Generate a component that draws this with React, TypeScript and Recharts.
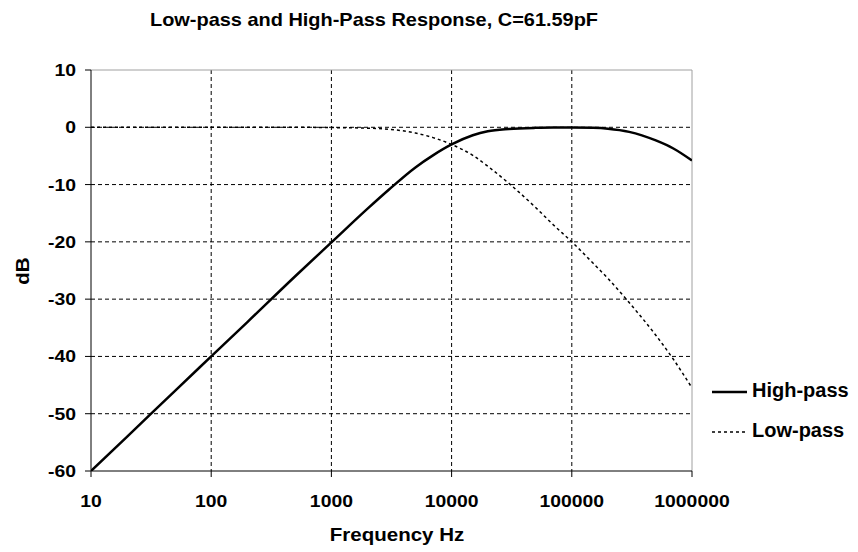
import { LineChart, Line, XAxis, YAxis, CartesianGrid, ReferenceLine } from 'recharts';

// ── Data ──────────────────────────────────────────────────────────────────────
const FREQ = [
  10, 20, 50, 100, 200, 500, 1000, 2000, 3000, 5000, 7000, 10000, 15000, 20000, 30000,
  50000, 70000, 100000, 150000, 200000, 300000, 500000, 700000, 1000000,
];
const HIGH_PASS = [
  -60, -54, -46, -40, -34, -26, -20.1, -14.2, -10.9, -7.0, -4.9, -3.0, -1.4, -0.7, -0.3,
  -0.1, -0.05, -0.05, -0.1, -0.25, -0.8, -2.3, -3.7, -5.8,
];
const LOW_PASS = [
  0, 0, 0, 0, 0, 0, -0.05, -0.15, -0.35, -1.0, -1.8, -3.0, -4.9, -6.8, -9.8,
  -14.0, -17.0, -20.0, -23.7, -26.4, -30.6, -36.3, -40.5, -45.5,
];
const X_TICKS = [10, 100, 1000, 10000, 100000, 1000000];
const Y_TICKS = [10, 0, -10, -20, -30, -40, -50, -60];
const X_GRID = [100, 1000, 10000, 100000];
const Y_GRID = [0, -10, -20, -30, -40, -50];

const data = FREQ.map((f, i) => ({ f, hp: HIGH_PASS[i], lp: LOW_PASS[i] }));

const FONT = "'Liberation Sans', Arial, sans-serif";
const SX = 1.14; // reference text is slightly stretched horizontally

// ── Tick renderers ────────────────────────────────────────────────────────────
function XTick({ x, y, payload }: any) {
  return (
    <text
      transform={`translate(${x},${y + 27.5}) scale(${SX},1)`}
      textAnchor="middle"
      fontFamily={FONT}
      fontWeight="bold"
      fontSize={17}
      fill="#000"
    >
      {payload.value}
    </text>
  );
}

function YTick({ x, y, payload }: any) {
  return (
    <text
      transform={`translate(${x - 7},${y + 6}) scale(${SX},1)`}
      textAnchor="end"
      fontFamily={FONT}
      fontWeight="bold"
      fontSize={17}
      fill="#000"
    >
      {payload.value}
    </text>
  );
}

// ── Main ──────────────────────────────────────────────────────────────────────
export default function App() {
  return (
    <div style={{ position: 'absolute', left: 0, top: 0, width: 858, height: 552, background: '#fff' }}>
      <LineChart width={858} height={552} data={data} margin={{ top: 70, right: 166, bottom: 51, left: 31 }}>
        <CartesianGrid
          stroke="#000"
          strokeDasharray="4 3"
          horizontalValues={Y_GRID}
          verticalValues={X_GRID}
        />
        <ReferenceLine y={10} stroke="#a0a0a0" strokeWidth={1} />
        <ReferenceLine x={1000000} stroke="#a0a0a0" strokeWidth={1} />
        <XAxis
          dataKey="f"
          type="number"
          scale="log"
          domain={[10, 1000000]}
          ticks={X_TICKS}
          height={30}
          tickSize={6}
          stroke="#000"
          tick={<XTick />}
          interval={0}
          allowDataOverflow
        />
        <YAxis
          type="number"
          domain={[-60, 10]}
          ticks={Y_TICKS}
          width={60}
          tickSize={6}
          stroke="#000"
          tick={<YTick />}
          interval={0}
          allowDataOverflow
        />
        <Line
          type="monotone"
          dataKey="lp"
          stroke="#000"
          strokeWidth={1.5}
          strokeDasharray="3 3"
          dot={false}
          isAnimationActive={false}
        />
        <Line
          type="monotone"
          dataKey="hp"
          stroke="#000"
          strokeWidth={2.5}
          dot={false}
          isAnimationActive={false}
        />
      </LineChart>

      {/* Title, axis titles and legend */}
      <svg
        width={858}
        height={552}
        style={{ position: 'absolute', left: 0, top: 0, pointerEvents: 'none' }}
        fontFamily={FONT}
        fontWeight="bold"
      >
        <text transform={`translate(374,26) scale(${SX},1)`} textAnchor="middle" fontSize={17.5}>
          Low-pass and High-Pass Response, C=61.59pF
        </text>
        <text transform={`translate(397,541) scale(${SX},1)`} textAnchor="middle" fontSize={18}>
          Frequency Hz
        </text>
        <text transform={`translate(29,271) rotate(-90) scale(${SX},1)`} textAnchor="middle" fontSize={18}>
          dB
        </text>
        <line x1={712} y1={392} x2={747} y2={392} stroke="#000" strokeWidth={2.5} />
        <text x={752} y={397} fontSize={20}>High-pass</text>
        <line x1={712} y1={432} x2={747} y2={432} stroke="#000" strokeWidth={1.5} strokeDasharray="3 3" />
        <text x={752} y={437} fontSize={20}>Low-pass</text>
      </svg>
    </div>
  );
}
